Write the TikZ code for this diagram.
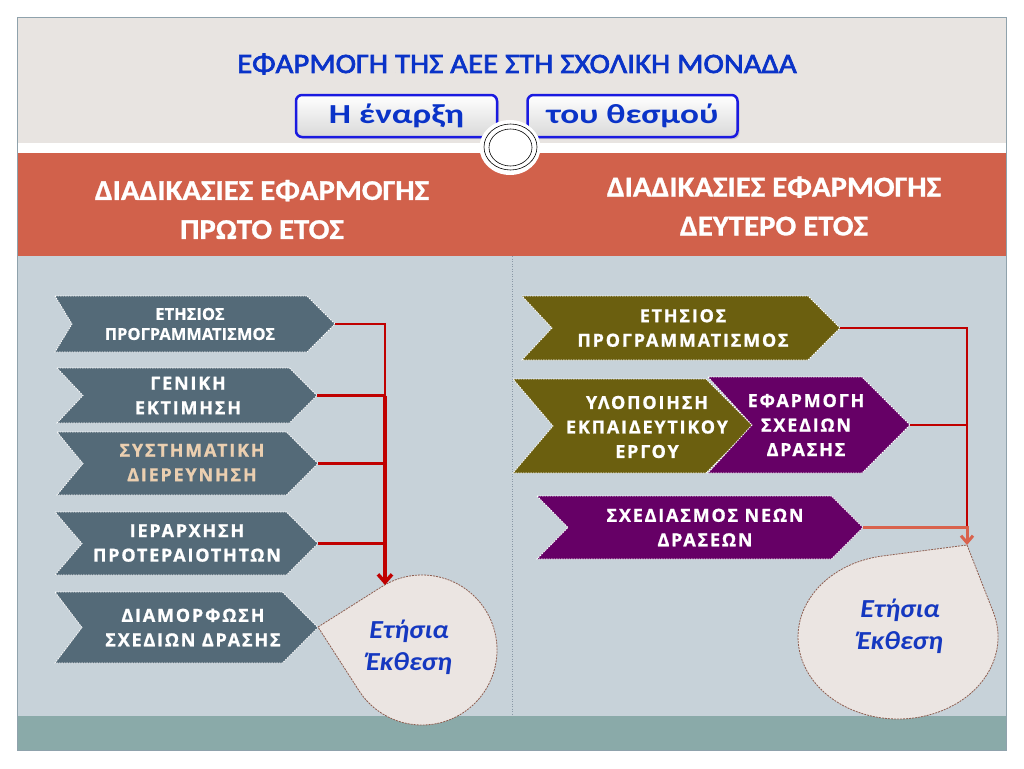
\documentclass[tikz,border=0pt]{standalone}
\usepackage{fontspec}
\setmainfont{Carlito}
\newfontfamily\titlef[FakeStretch=1.1,FakeBold=2.5]{Carlito}
\newfontfamily\bandf[FakeStretch=1.08,FakeBold=1]{Carlito}
\newfontfamily\btnf[FakeStretch=1.28]{Carlito}
\newfontfamily\tearf[FakeStretch=1.08]{Carlito}
\newfontfamily\chevf[LetterSpace=10,FakeBold=1]{Open Sans}
\newfontfamily\chevplain[FakeBold=0.6]{Open Sans}
\usetikzlibrary{arrows.meta,calc,shadows}
\definecolor{topgray}{HTML}{E8E4E1}
\definecolor{bandred}{HTML}{D1614B}
\definecolor{mainbg}{HTML}{C7D2D9}
\definecolor{tealbg}{HTML}{8AAAA9}
\definecolor{framec}{HTML}{8FA2AC}
\definecolor{divc}{HTML}{8A98A6}
\definecolor{slate}{HTML}{546A78}
\definecolor{olive}{HTML}{6B5F0F}
\definecolor{plum}{HTML}{660066}
\definecolor{tan}{HTML}{EBCFB0}
\definecolor{titleblue}{HTML}{0A33C8}
\definecolor{btnblue}{HTML}{1A1AE0}
\definecolor{teartxt}{HTML}{1538C0}
\definecolor{tearfill}{HTML}{EBE5E2}
\definecolor{tearedge}{HTML}{8E5E50}
\definecolor{lred}{HTML}{C00000}
\definecolor{salmon}{HTML}{D9624C}
\newcommand\chev[7]{%
  \filldraw[chevbox, fill=#7] (#2,#3) -- ({#4-(#5-#3)/2},#3) -- (#4,{(#3+#5)/2})
    -- ({#4-(#5-#3)/2},#5) -- (#2,#5) -- ({#2+#6},{(#3+#5)/2}) -- cycle;
  \coordinate (#1) at (#4,{(#3+#5)/2});
}
\begin{document}
\begin{tikzpicture}[x=1pt,y=-1pt,
  chevbox/.style={draw=white, line width=0.8pt, dash pattern=on 1.5pt off 1pt},
  ctext/.style={align=center, text=white, inner sep=0pt,
    font=\chevf\bfseries\fontsize{18}{24.5}\selectfont},
  ctextsmall/.style={align=center, text=white, inner sep=0pt,
    font=\chevplain\bfseries\fontsize{16.5}{20}\selectfont},
  bandtext/.style={align=center, text=white, inner sep=0pt,
    font=\bandf\bfseries\fontsize{28.5}{39}\selectfont},
  btn/.style={draw=btnblue, line width=2.5pt, rounded corners=6pt,
    top color=white, bottom color=gray!30, text=titleblue, inner sep=0pt,
    minimum height=42pt, font=\btnf\bfseries\fontsize{27.5}{30}\selectfont,
    drop shadow={shadow xshift=2pt, shadow yshift=-2pt, opacity=0.25}},
  tear/.style={fill=tearfill, draw=tearedge, line width=0.8pt, dash pattern=on 2pt off 1pt},
  teartext/.style={align=center, text=teartxt, inner sep=0pt,
    font=\tearf\bfseries\itshape\fontsize{26}{32}\selectfont},
  redthin/.style={draw=lred, line width=2pt},
  redmid/.style={draw=lred, line width=3pt},
  redthick/.style={draw=lred, line width=3.5pt},
  salmonln/.style={draw=salmon, line width=3pt}
]
\useasboundingbox (0,0) rectangle (1024,768);
\fill[white] (0,0) rectangle (1024,768);
% background bands
\fill[topgray] (17,17) rectangle (1006,143);
\fill[bandred] (17,153) rectangle (1006,256);
\fill[mainbg] (17,256) rectangle (1006,716);
\fill[tealbg] (17,716) rectangle (1006,750);
\draw[framec, line width=0.8pt] (17,17) rectangle (1006,750);
\draw[divc, line width=1pt, dash pattern=on 1pt off 1.5pt] (512,256) -- (512,716);
% title
\node[text=titleblue, inner sep=0pt, font=\titlef\fontsize{28}{30}\selectfont] (title) at (517,64)
  {ΕΦΑΡΜΟΓΗ ΤΗΣ ΑΕΕ ΣΤΗ ΣΧΟΛΙΚΗ ΜΟΝΑΔΑ};
% buttons
\node[btn, minimum width=201pt] (b1) at (396.5,116) {Η έναρξη};
\node[btn, minimum width=210pt] (b2) at (632.5,116) {του θεσμού};
% knob
\fill[white] (510,147.5) ellipse [x radius=30.5, y radius=27.5];
\draw[black, line width=0.6pt] (510.5,147) ellipse [x radius=26.5, y radius=23];
\draw[black, line width=0.6pt] (510.5,147.5) ellipse [x radius=21.5, y radius=18.5];
% band headings
\node[bandtext] (h1) at (262,209.5) {ΔΙΑΔΙΚΑΣΙΕΣ ΕΦΑΡΜΟΓΗΣ\\ΠΡΩΤΟ ΕΤΟΣ};
\node[bandtext] (h2) at (774,206) {ΔΙΑΔΙΚΑΣΙΕΣ ΕΦΑΡΜΟΓΗΣ\\ΔΕΥΤΕΡΟ ΕΤΟΣ};
% left chevrons
\chev{L1tip}{55}{296}{335}{352}{17}{slate}
\chev{L2tip}{57}{368}{317}{423}{26}{slate}
\chev{L3tip}{57}{432}{318}{495}{26}{slate}
\chev{L4tip}{55}{512}{318}{575}{27}{slate}
\chev{L5tip}{55}{592}{318}{663}{27}{slate}
\node[ctextsmall] (L1) at (190,324) {ΕΤΗΣΙΟΣ\\ΠΡΟΓΡΑΜΜΑΤΙΣΜΟΣ};
\node[ctext] (L2) at (188,395.5) {ΓΕΝΙΚΗ\\ΕΚΤΙΜΗΣΗ};
\node[ctext, text=tan] (L3) at (192,462.5) {ΣΥΣΤΗΜΑΤΙΚΗ\\ΔΙΕΡΕΥΝΗΣΗ};
\node[ctext] (L4) at (187,543) {ΙΕΡΑΡΧΗΣΗ\\ΠΡΟΤΕΡΑΙΟΤΗΤΩΝ};
\node[ctext] (L5) at (193,627.5) {ΔΙΑΜΟΡΦΩΣΗ\\ΣΧΕΔΙΩΝ ΔΡΑΣΗΣ};
% right chevrons
\chev{R1tip}{522}{296}{840}{360}{30}{olive}
\chev{R2tip}{513}{379}{753}{473}{40}{olive}
\chev{R3tip}{708}{377}{910}{473}{44}{plum}
\chev{R4tip}{537}{496}{863}{559}{31}{plum}
\node[ctext] (R1) at (683,328) {ΕΤΗΣΙΟΣ\\ΠΡΟΓΡΑΜΜΑΤΙΣΜΟΣ};
\node[ctext] (R2) at (647,427) {ΥΛΟΠΟΙΗΣΗ\\ΕΚΠΑΙΔΕΥΤΙΚΟΥ\\ΕΡΓΟΥ};
\node[ctext] (R3) at (806,425) {ΕΦΑΡΜΟΓΗ\\ΣΧΕΔΙΩΝ\\ΔΡΑΣΗΣ};
\node[ctext] (R4) at (705,527.5) {ΣΧΕΔΙΑΣΜΟΣ ΝΕΩΝ\\ΔΡΑΣΕΩΝ};
% teardrops
\filldraw[tear] (318,627) -- ($(422,650)+(237.3:75)$)
  arc[start angle=237.3, end angle=507.3, radius=75] -- cycle;
\coordinate (TLin) at (385,585);
\node[teartext] (T1) at (409,647) {Ετήσια\\Έκθεση};
\filldraw[tear] (967,545) -- ({898+100*cos(-17.8)},{637+82*sin(-17.8)})
  arc[start angle=-17.8, end angle=261, x radius=100, y radius=82] -- cycle;
\coordinate (TRtip) at (967,545);
\node[teartext] (T2) at (900,626) {Ετήσια\\Έκθεση};
% left connectors
\coordinate (jL2) at (385,395.5);
\coordinate (jL3) at (385,463.5);
\coordinate (jL4) at (385,543.5);
\draw[redthin] (L1tip) -| (jL2);
\draw[redmid] (L2tip) -- (jL2);
\draw[redmid] (L3tip) -- (jL3);
\draw[redmid] (L4tip) -- (jL4);
\draw[redthick, -{Straight Barb[length=8pt,width=14pt]}] (jL2) -- (TLin);
% right connectors
\coordinate (jR3) at (967,425);
\coordinate (jR4) at (967,527.5);
\draw[redthin] (R1tip) -| (jR4);
\draw[redthin] (R3tip) -- (jR3);
\draw[salmonln, -{Straight Barb[length=7pt,width=12pt]}] (R4tip) -| (TRtip);
\end{tikzpicture}
\end{document}
